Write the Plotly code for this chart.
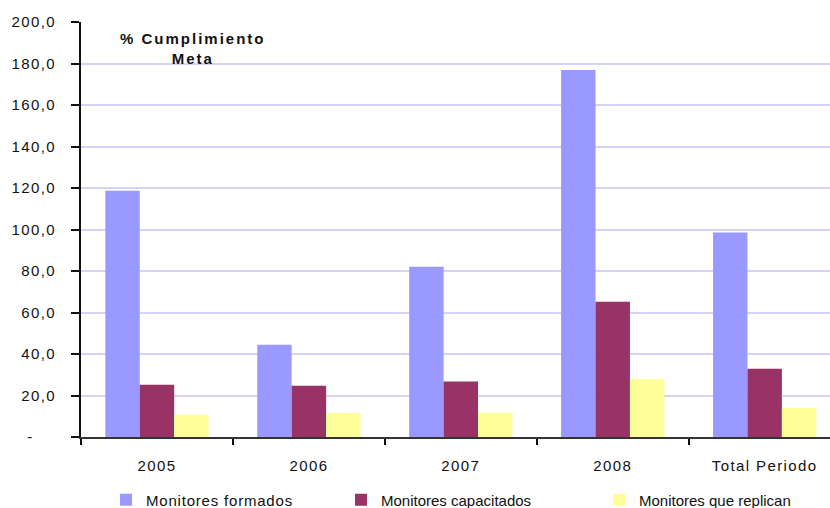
import plotly.graph_objects as go

categories = ["2005", "2006", "2007", "2008", "Total Periodo"]
formados = [118.7, 44.5, 82.1, 176.9, 98.5]
capacitados = [25.2, 24.7, 26.7, 65.2, 32.9]
replican = [10.7, 11.6, 11.7, 28.0, 14.1]

y_ticks = [0, 20, 40, 60, 80, 100, 120, 140, 160, 180, 200]
y_tick_labels = ["-\u00a0\u00a0\u00a0\u00a0", "20,0", "40,0", "60,0", "80,0", "100,0",
                 "120,0", "140,0", "160,0", "180,0", "200,0"]

FONT = "Liberation Sans, Arial, sans-serif"
INK = "#111111"
W, H = 830, 508

fig = go.Figure()
fig.add_trace(go.Bar(name="Monitores formados", x=categories, y=formados,
                     marker=dict(color="#9999FF", line=dict(width=0)), legend="legend"))
fig.add_trace(go.Bar(name="Monitores capacitados", x=categories, y=capacitados,
                     marker=dict(color="#993366", line=dict(width=0)), legend="legend2"))
fig.add_trace(go.Bar(name="Monitores que replican", x=categories, y=replican,
                     marker=dict(color="#FFFF99", line=dict(width=0)), legend="legend3"))


def legend_at(px_left):
    # one legend box per series, placed along the bottom row
    return dict(xref="container", yref="container",
                x=(px_left - 14) / W, xanchor="left",
                y=(H - 500) / H, yanchor="middle",
                orientation="h", bgcolor="rgba(0,0,0,0)",
                font=dict(family=FONT, size=15, color=INK))


fig.update_layout(
    width=W, height=H,
    margin=dict(l=81, r=0, t=22, b=71, autoexpand=False),
    paper_bgcolor="white", plot_bgcolor="white",
    barmode="group", bargap=0.32, bargroupgap=0,
    font=dict(family=FONT, size=15, color=INK),
    showlegend=True,
    legend=legend_at(120),
    legend2=legend_at(355),
    legend3=legend_at(613),
    annotations=[dict(
        text="<b>% Cumplimiento<br>Meta</b>",
        xref="x domain", yref="y domain",
        x=(193 - 81) / 749, y=(437.3 - 49) / 415.3,
        xanchor="center", yanchor="middle",
        showarrow=False, font=dict(family=FONT, size=15, color=INK),
        align="center",
    )],
)

fig.update_xaxes(
    type="category", range=[-0.5, 4.43], tickson="boundaries",
    ticks="outside", ticklen=6, tickwidth=2, tickcolor=INK,
    showline=True, linecolor="#333333", linewidth=2,
    showgrid=False, tickfont=dict(family=FONT, size=15, color=INK),
    ticklabelstandoff=14,
)
fig.update_yaxes(
    range=[0, 200], tickvals=y_ticks, ticktext=y_tick_labels,
    ticks="outside", ticklen=8, tickwidth=2, tickcolor=INK,
    showline=True, linecolor=INK, linewidth=2,
    showgrid=True, gridcolor="#D4D4F8", gridwidth=2,
    zeroline=False, tickfont=dict(family=FONT, size=15, color=INK),
    ticklabelstandoff=12,
)

# slightly spaced lettering for the axis, legend and heading text
spacing_js = """
var gd = document.getElementsByClassName('plotly-graph-div')[0];
function spaceText() {
  gd.querySelectorAll('.xtick text, .ytick text').forEach(function (t) { t.style.letterSpacing = '1.4px'; });
  gd.querySelectorAll('.legendtext').forEach(function (t) { t.style.letterSpacing = '0.8px'; });
  gd.querySelectorAll('.annotation-text').forEach(function (t) { t.style.letterSpacing = '2px'; });
  gd.querySelectorAll('.legend .scrollbox').forEach(function (g) { g.removeAttribute('clip-path'); });
}
spaceText();
gd.on('plotly_afterplot', spaceText);
"""

fig.write_html("out.html", post_script=spacing_js)
